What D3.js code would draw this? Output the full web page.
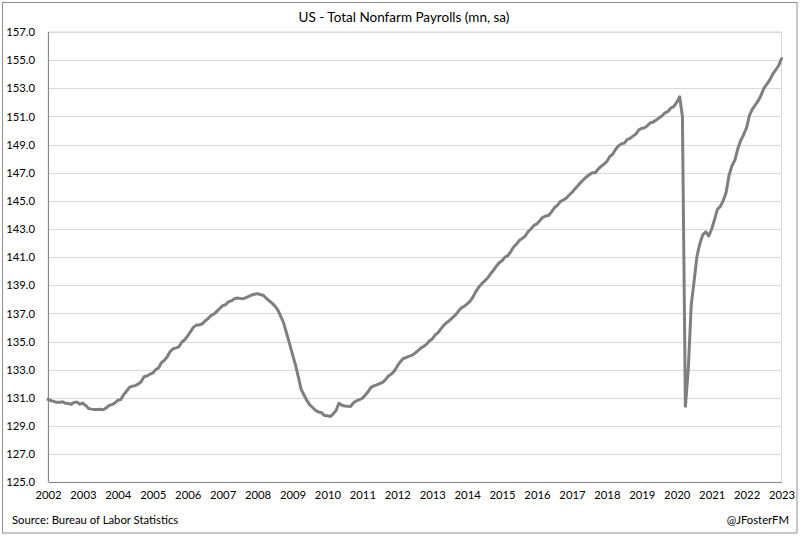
<!DOCTYPE html>
<html>
<head>
<meta charset="utf-8">
<script src="https://cdn.jsdelivr.net/npm/d3@7"></script>
<style>
  html, body { margin: 0; padding: 0; background: #ffffff; }
  svg { display: block; }
  text { font-family: Lato, "Open Sans", sans-serif; fill: #000; }
</style>
</head>
<body>
<svg id="chart" width="800" height="536"></svg>
<script>
// ---- Data (US Total Nonfarm Payrolls, millions, SA; monthly Jan 2002 - Jan 2023) ----
const title = "US - Total Nonfarm Payrolls (mn, sa)";
const sourceText = "Source: Bureau of Labor Statistics";
const creditText = "@JFosterFM";
const startYear = 2002;
const payrolls = [
  // 2002
  130.90, 130.80, 130.75, 130.68, 130.68, 130.72, 130.62, 130.60, 130.55, 130.68, 130.70, 130.55,
  // 2003
  130.62, 130.45, 130.24, 130.20, 130.18, 130.18, 130.19, 130.16, 130.28, 130.46, 130.52, 130.64,
  // 2004
  130.82, 130.88, 131.21, 131.47, 131.75, 131.83, 131.87, 131.99, 132.15, 132.50, 132.55, 132.68,
  // 2005
  132.77, 133.01, 133.13, 133.50, 133.67, 133.92, 134.29, 134.49, 134.55, 134.63, 134.97, 135.13,
  // 2006
  135.41, 135.72, 136.01, 136.17, 136.18, 136.26, 136.46, 136.63, 136.85, 136.95, 137.15, 137.35,
  // 2007
  137.55, 137.62, 137.82, 137.89, 138.03, 138.10, 138.07, 138.04, 138.12, 138.21, 138.31, 138.36,
  // 2008
  138.41, 138.33, 138.29, 138.08, 137.90, 137.73, 137.52, 137.24, 136.78, 136.30, 135.56, 134.86,
  // 2009
  134.08, 133.35, 132.55, 131.60, 131.20, 130.80, 130.50, 130.30, 130.10, 130.00, 129.95, 129.75,
  // 2010
  129.73, 129.68, 129.85, 130.10, 130.62, 130.48, 130.42, 130.40, 130.39, 130.66, 130.79, 130.88,
  // 2011
  130.97, 131.20, 131.43, 131.75, 131.85, 131.93, 132.02, 132.10, 132.30, 132.55, 132.70, 132.90,
  // 2012
  133.25, 133.55, 133.78, 133.86, 133.95, 134.02, 134.16, 134.33, 134.52, 134.65, 134.80, 135.04,
  // 2013
  135.19, 135.48, 135.62, 135.90, 136.15, 136.35, 136.50, 136.70, 136.90, 137.15, 137.40, 137.50,
  // 2014
  137.68, 137.87, 138.14, 138.55, 138.85, 139.10, 139.30, 139.50, 139.80, 140.05, 140.35, 140.60,
  // 2015
  140.75, 141.00, 141.10, 141.38, 141.72, 141.92, 142.20, 142.33, 142.50, 142.82, 143.02, 143.26,
  // 2016
  143.37, 143.60, 143.83, 143.92, 143.96, 144.22, 144.51, 144.68, 144.95, 145.06, 145.19, 145.40,
  // 2017
  145.60, 145.85, 146.05, 146.30, 146.50, 146.70, 146.85, 147.00, 147.00, 147.25, 147.45, 147.60,
  // 2018
  147.80, 148.15, 148.30, 148.65, 148.90, 149.05, 149.10, 149.35, 149.45, 149.60, 149.75, 150.05,
  // 2019
  150.15, 150.20, 150.35, 150.55, 150.60, 150.75, 150.90, 151.05, 151.25, 151.35, 151.60, 151.70,
  // 2020
  152.00, 152.40, 151.00, 130.40, 133.00, 137.60, 139.30, 141.10, 142.00, 142.60, 142.80, 142.50,
  // 2021
  143.00, 143.70, 144.40, 144.60, 145.00, 145.60, 146.80, 147.50, 147.90, 148.70, 149.30, 149.70,
  // 2022
  150.20, 151.10, 151.50, 151.80, 152.10, 152.50, 153.00, 153.30, 153.60, 154.00, 154.30, 154.60,
  // 2023
  155.10
];
const yTickValues = [125, 127, 129, 131, 133, 135, 137, 139, 141, 143, 145, 147, 149, 151, 153, 155, 157];
const xTickYears = d3.range(2002, 2024);

// ---- Layout ----
const svg = d3.select("#chart");
const plot = { left: 48, right: 781.5, top: 32, bottom: 482.3 };

const data = payrolls.map((v, i) => ({ date: new Date(startYear, i, 1), value: v }));

const x = d3.scaleTime()
  .domain([new Date(2002, 0, 1), new Date(2023, 0, 1)])
  .range([plot.left, plot.right]);
const y = d3.scaleLinear()
  .domain([125, 157])
  .range([plot.bottom, plot.top]);

// Chart border
svg.append("rect")
  .attr("x", 2.5).attr("y", 2.5)
  .attr("width", 794.5).attr("height", 530.5)
  .attr("fill", "#fff")
  .attr("stroke", "#8f8f8f")
  .attr("stroke-width", 1);

// Title
svg.append("text")
  .attr("x", 404).attr("y", 22)
  .attr("text-anchor", "middle")
  .attr("font-size", 13.5)
  .text(title);

// Plot area border (light)
svg.append("rect")
  .attr("x", plot.left).attr("y", plot.top)
  .attr("width", plot.right - plot.left).attr("height", plot.bottom - plot.top)
  .attr("fill", "none")
  .attr("stroke", "#d9d9d9");

// Gridlines + Y axis
const yAxis = d3.axisLeft(y)
  .tickValues(yTickValues)
  .tickFormat(d3.format(".1f"))
  .tickSize(-(plot.right - plot.left))
  .tickPadding(13);
const gy = svg.append("g")
  .attr("transform", `translate(${plot.left},0)`)
  .call(yAxis);
gy.select(".domain").remove();
gy.selectAll(".tick line").attr("stroke", "#d9d9d9").attr("stroke-width", 1).attr("shape-rendering", "crispEdges");
gy.selectAll(".tick text")
  .attr("font-family", "Lato, sans-serif")
  .attr("font-size", 11.3)
  .attr("fill", "#000");

// X axis
const xAxis = d3.axisBottom(x)
  .tickValues(xTickYears.map(yr => new Date(yr, 0, 1)))
  .tickFormat(d3.timeFormat("%Y"))
  .tickSize(0)
  .tickPadding(9);
const gx = svg.append("g")
  .attr("transform", `translate(0,${plot.bottom})`)
  .call(xAxis);
gx.select(".domain").attr("stroke", "#868686").attr("shape-rendering", "crispEdges");
gx.selectAll(".tick text")
  .attr("font-family", "Lato, sans-serif")
  .attr("font-size", 11.3)
  .attr("fill", "#000");

// Left axis line
svg.append("line")
  .attr("x1", plot.left).attr("x2", plot.left)
  .attr("y1", plot.top).attr("y2", plot.bottom)
  .attr("stroke", "#868686")
  .attr("shape-rendering", "crispEdges");

// Line series
const line = d3.line()
  .x(d => x(d.date))
  .y(d => y(d.value));
svg.append("path")
  .datum(data)
  .attr("fill", "none")
  .attr("stroke", "#7f7f7f")
  .attr("stroke-width", 3)
  .attr("stroke-linejoin", "round")
  .attr("stroke-linecap", "round")
  .attr("d", line);

// Footer
svg.append("text")
  .attr("x", 12).attr("y", 524)
  .attr("font-size", 11.3)
  .text(sourceText);
svg.append("text")
  .attr("x", 789).attr("y", 524)
  .attr("text-anchor", "end")
  .attr("font-size", 11.3)
  .text(creditText);
</script>
</body>
</html>
